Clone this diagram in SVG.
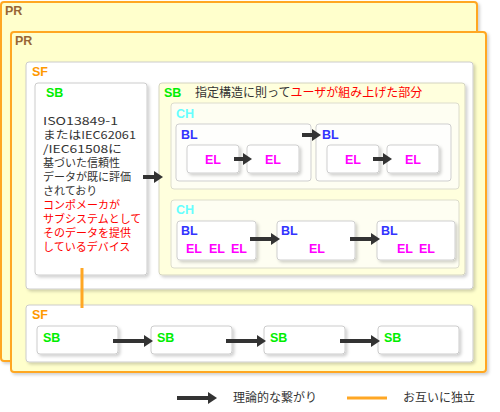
<svg xmlns="http://www.w3.org/2000/svg" width="500" height="412" viewBox="0 0 500 412">
<style>
.pr{fill:#ffffcc;stroke:#ffa724;stroke-width:2}
.sf{fill:#ffffff;stroke:#cccccc;stroke-width:1}
.sbb{fill:#ffffff;stroke:#cccccc;stroke-width:1}
.sby{fill:#ffffdd;stroke:#d4d4c0;stroke-width:1}
.ch{fill:#fefef2;stroke:#dcdccc;stroke-width:1}
.bl{fill:#fefefc;stroke:#cfcfcf;stroke-width:1}
.el{fill:#ffffff;stroke:#cfcfcf;stroke-width:1}
text{font-family:"Noto Sans CJK JP","Noto Sans",sans-serif}
.lb{font-family:"Liberation Sans",Arial,sans-serif;font-weight:bold;font-size:12.5px}
.prt{fill:#996633}
.sft{fill:#ff9900}
.sbt{fill:#00ee00}
.cht{fill:#66ffff}
.blt{fill:#3333ff}
.elt{fill:#ff00ff}
.tx{font-size:12px;fill:#333333}
.txs{font-size:11px;fill:#333333}
.red{fill:#ff0000}
.arr{stroke:#333333;stroke-width:4;fill:none;marker-end:url(#ah)}
.ind{stroke:#ffa724;stroke-width:3;fill:none}
</style>
<defs>
<marker id="ah" markerWidth="10" markerHeight="12" refX="1" refY="6" orient="auto" markerUnits="userSpaceOnUse">
<path d="M0,0 L9,6 L0,12 Z" fill="#333333"/>
</marker>
<filter id="sh" x="-10%" y="-10%" width="130%" height="130%">
<feDropShadow dx="2" dy="2" stdDeviation="1.5" flood-color="#000000" flood-opacity="0.18"/>
</filter>
</defs>

<g id="pr-outer">
<rect class="pr" x="1" y="2" width="476" height="359" rx="3" filter="url(#sh)"/>
<text class="lb prt" x="5" y="15">PR</text>
</g>
<g id="pr-inner">
<rect class="pr" x="11" y="32" width="475" height="340" rx="3" filter="url(#sh)"/>
<text class="lb prt" x="15" y="45">PR</text>
</g>

<g id="sf-top">
<rect class="sf" x="26" y="62" width="447" height="227" rx="3" filter="url(#sh)"/>
<text class="lb sft" x="32" y="76">SF</text>
</g>

<g id="sb-left">
<rect class="sbb" x="35" y="83" width="112" height="192" rx="3" filter="url(#sh)"/>
<text class="lb sbt" x="46" y="97">SB</text>
<text class="txs" x="43" y="125"><tspan x="43" y="125" textLength="75" lengthAdjust="spacingAndGlyphs">ISO13849-1</tspan><tspan x="43" y="139" textLength="93" lengthAdjust="spacingAndGlyphs">またはIEC62061</tspan><tspan x="43" y="153" textLength="79" lengthAdjust="spacingAndGlyphs">/IEC61508に</tspan><tspan x="43" y="167">基づいた信頼性</tspan><tspan x="43" y="181">データが既に評価</tspan><tspan x="43" y="195">されており</tspan><tspan class="red" x="43" y="209">コンポメーカが</tspan><tspan class="red" x="43" y="223">サブシステムとして</tspan><tspan class="red" x="43" y="237">そのデータを提供</tspan><tspan class="red" x="43" y="251">しているデバイス</tspan></text>
</g>

<g id="sb-right">
<rect class="sby" x="159" y="83" width="306" height="192" rx="3" filter="url(#sh)"/>
<text class="lb sbt" x="164" y="97">SB</text>
<text class="tx" x="195" y="97">指定構造に則って<tspan class="red">ユーザが組み上げた部分</tspan></text>
</g>

<g id="ch-1">
<rect class="ch" x="171" y="103" width="288" height="86" rx="3"/>
<text class="lb cht" x="176" y="118">CH</text>
</g>
<g id="bl-1">
<rect class="bl" x="176" y="124" width="135" height="57" rx="3"/>
<text class="lb blt" x="181" y="139">BL</text>
</g>
<g id="el-1">
<rect class="el" x="187" y="145" width="52" height="28" rx="3" filter="url(#sh)"/>
<text class="lb elt" x="213" y="164" text-anchor="middle">EL</text>
</g>
<g id="el-2">
<rect class="el" x="247" y="145" width="52" height="28" rx="3" filter="url(#sh)"/>
<text class="lb elt" x="273" y="164" text-anchor="middle">EL</text>
</g>
<g id="bl-2">
<rect class="bl" x="316" y="124" width="135" height="57" rx="3"/>
<text class="lb blt" x="322" y="139">BL</text>
</g>
<g id="el-3">
<rect class="el" x="327" y="145" width="52" height="28" rx="3" filter="url(#sh)"/>
<text class="lb elt" x="353" y="164" text-anchor="middle">EL</text>
</g>
<g id="el-4">
<rect class="el" x="387" y="145" width="52" height="28" rx="3" filter="url(#sh)"/>
<text class="lb elt" x="413" y="164" text-anchor="middle">EL</text>
</g>

<g id="ch-2">
<rect class="ch" x="171" y="200" width="288" height="68" rx="3"/>
<text class="lb cht" x="176" y="214">CH</text>
</g>
<g id="bl-3">
<rect class="el" x="177" y="221" width="79" height="39" rx="3" filter="url(#sh)"/>
<text class="lb blt" x="181" y="235">BL</text>
<text class="lb elt" x="186" y="253">EL</text>
<text class="lb elt" x="209" y="253">EL</text>
<text class="lb elt" x="231" y="253">EL</text>
</g>
<g id="bl-4">
<rect class="el" x="277" y="221" width="78" height="39" rx="3" filter="url(#sh)"/>
<text class="lb blt" x="281" y="235">BL</text>
<text class="lb elt" x="309" y="253">EL</text>
</g>
<g id="bl-5">
<rect class="el" x="377" y="221" width="78" height="39" rx="3" filter="url(#sh)"/>
<text class="lb blt" x="381" y="235">BL</text>
<text class="lb elt" x="397" y="253">EL</text>
<text class="lb elt" x="419" y="253">EL</text>
</g>

<g id="sf-bottom">
<rect class="sf" x="26" y="305" width="447" height="57" rx="3" filter="url(#sh)"/>
<text class="lb sft" x="32" y="319">SF</text>
</g>
<g id="sb-b1">
<rect class="sbb" x="37" y="326" width="81" height="28" rx="3" filter="url(#sh)"/>
<text class="lb sbt" x="43" y="342">SB</text>
</g>
<g id="sb-b2">
<rect class="sbb" x="151" y="326" width="81" height="28" rx="3" filter="url(#sh)"/>
<text class="lb sbt" x="157" y="342">SB</text>
</g>
<g id="sb-b3">
<rect class="sbb" x="264" y="326" width="81" height="28" rx="3" filter="url(#sh)"/>
<text class="lb sbt" x="270" y="342">SB</text>
</g>
<g id="sb-b4">
<rect class="sbb" x="378" y="326" width="81" height="28" rx="3" filter="url(#sh)"/>
<text class="lb sbt" x="384" y="342">SB</text>
</g>

<g id="connectors">
<line class="arr" x1="143" y1="177" x2="155" y2="177"/>
<line class="arr" x1="234" y1="159" x2="244" y2="159"/>
<line class="arr" x1="302" y1="135" x2="313" y2="135"/>
<line class="arr" x1="373" y1="159" x2="384" y2="159"/>
<line class="arr" x1="250" y1="239" x2="272" y2="239"/>
<line class="arr" x1="350" y1="239" x2="372" y2="239"/>
<line class="arr" x1="113" y1="341" x2="145" y2="341"/>
<line class="arr" x1="226" y1="341" x2="258" y2="341"/>
<line class="arr" x1="340" y1="341" x2="372" y2="341"/>
<line class="ind" x1="82" y1="268" x2="82" y2="308"/>
</g>

<g id="legend">
<line class="arr" x1="177" y1="398" x2="209" y2="398"/>
<text class="tx" x="233" y="402">理論的な繋がり</text>
<line class="ind" x1="347" y1="398" x2="387" y2="398"/>
<text class="tx" x="403" y="402">お互いに独立</text>
</g>
</svg>
